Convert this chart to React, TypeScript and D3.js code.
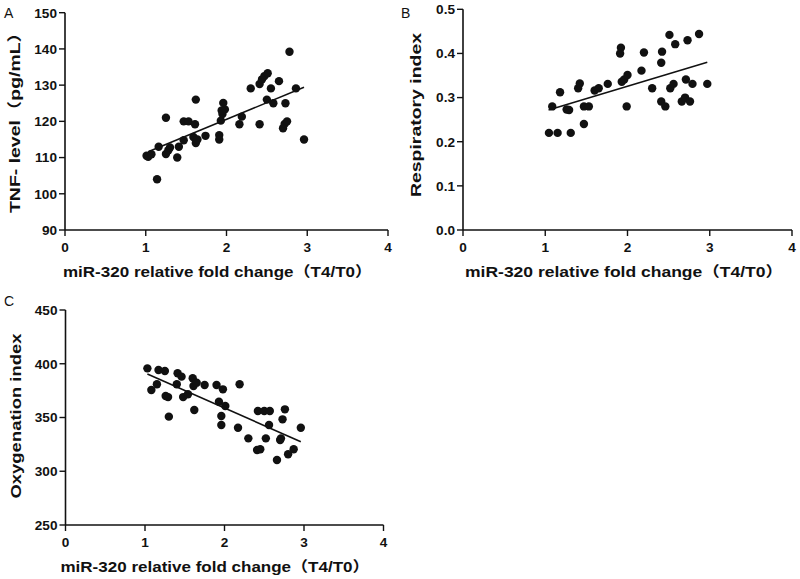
import React from "react";
import * as d3 from "d3";

// Panel A: TNF level vs miR-320 fold change
const tnfX = [1.01, 1.03, 1.07, 1.14, 1.16, 1.25, 1.25, 1.28, 1.30, 1.39, 1.41, 1.47, 1.47, 1.53, 1.61, 1.62, 1.59, 1.62, 1.64, 1.74, 1.91, 1.91, 1.93, 1.95, 1.96, 1.98, 1.94, 2.16, 2.19, 2.30, 2.41, 2.41, 2.44, 2.47, 2.51, 2.50, 2.55, 2.58, 2.65, 2.70, 2.72, 2.75, 2.73, 2.78, 2.86, 2.96];
const tnfY = [110.5, 110.2, 110.9, 104, 113, 121, 111, 112, 112.8, 110, 113, 114.8, 120, 120, 119.2, 126, 115.7, 114, 115, 116, 116.2, 115, 120.2, 122, 125.1, 123.3, 123, 119.2, 121.3, 129.1, 119.2, 130.3, 131.6, 132.5, 133.3, 126, 129.1, 125, 131.1, 118.1, 119.3, 120, 125, 139.2, 129.1, 115];
const tnfFitX = [1.03, 2.96];
const tnfFitY = [111.6, 129.4];
const tnfTicks = [90, 100, 110, 120, 130, 140, 150];

// Panel B: Respiratory index
const riX = [1.045, 1.15, 1.31, 1.085, 1.18, 1.26, 1.29, 1.40, 1.42, 1.47, 1.47, 1.53, 1.60, 1.65, 1.76, 1.92, 1.91, 1.93, 1.96, 2.00, 1.99, 2.17, 2.20, 2.30, 2.41, 2.42, 2.41, 2.46, 2.51, 2.52, 2.56, 2.58, 2.66, 2.70, 2.71, 2.73, 2.76, 2.79, 2.87, 2.97];
const riY = [0.22, 0.22, 0.22, 0.28, 0.312, 0.273, 0.272, 0.321, 0.332, 0.24, 0.28, 0.28, 0.316, 0.321, 0.331, 0.413, 0.40, 0.336, 0.341, 0.351, 0.28, 0.361, 0.402, 0.321, 0.379, 0.404, 0.291, 0.28, 0.442, 0.321, 0.331, 0.421, 0.291, 0.30, 0.341, 0.43, 0.291, 0.331, 0.444, 0.331];
const riFitX = [1.04, 2.97];
const riFitY = [0.272, 0.38];
const riTicks = [0, 0.1, 0.2, 0.3, 0.4, 0.5];

// Panel C: Oxygenation index
const oiX = [1.03, 1.17, 1.25, 1.08, 1.15, 1.26, 1.29, 1.30, 1.41, 1.46, 1.40, 1.48, 1.54, 1.60, 1.61, 1.65, 1.62, 1.75, 1.90, 1.98, 1.93, 2.01, 1.96, 1.96, 2.17, 2.19, 2.30, 2.41, 2.45, 2.42, 2.50, 2.57, 2.52, 2.56, 2.66, 2.70, 2.71, 2.73, 2.76, 2.80, 2.87, 2.96];
const oiY = [395.7, 394.2, 393.3, 375.6, 380.9, 370, 369, 350.8, 391.1, 388, 380.9, 369, 371.6, 386.5, 379.3, 382.4, 357, 380.2, 380.2, 376.2, 364.7, 360.7, 351.4, 343, 340.5, 380.9, 330.6, 319.8, 320.4, 356, 356, 356, 330.6, 343, 310.5, 329, 330.6, 348.3, 357.6, 315.8, 320.4, 340.5];
const oiFitX = [1.03, 2.96];
const oiFitY = [390.5, 327.5];
const oiTicks = [250, 300, 350, 400, 450];

const xTicks = [0, 1, 2, 3, 4];
const xTitle = "miR-320 relative fold change（T4/T0）";

const FONT = "'Liberation Sans', Arial, 'Noto Sans CJK SC', sans-serif";

type PanelProps = {
  letter: string;
  letterPos: [number, number];
  xr: [number, number];
  yr: [number, number];
  yDomain: [number, number];
  yTicks: number[];
  yFmt: (v: number) => string;
  yTitle: string;
  yTitleLen: number;
  yTitleCenter: number;
  titleOffset: number;
  xTitleLen: number;
  xTitleCenter: number;
  xs: number[];
  ys: number[];
  fitX: number[];
  fitY: number[];
};

function Panel(p: PanelProps) {
  const x = d3.scaleLinear().domain([0, 4]).range(p.xr);
  const y = d3.scaleLinear().domain(p.yDomain).range(p.yr);
  const x0 = p.xr[0];
  const y0 = p.yr[0];
  const line = d3
    .line<number>()
    .x((_, i) => x(p.fitX[i]))
    .y((_, i) => y(p.fitY[i]));
  return (
    <g fontFamily={FONT}>
      <text x={p.letterPos[0]} y={p.letterPos[1]} fontSize={14} fill="#111">
        {p.letter}
      </text>
      <line x1={x0} x2={x0} y1={y0} y2={p.yr[1]} stroke="#111" strokeWidth={1.6} />
      <line x1={x0} x2={p.xr[1]} y1={y0} y2={y0} stroke="#111" strokeWidth={1.6} />
      {p.yTicks.map((t) => (
        <g key={"y" + t}>
          <line x1={x0 - 6} x2={x0} y1={y(t)} y2={y(t)} stroke="#111" strokeWidth={1.4} />
          <text x={x0 - 8} y={y(t)} dy="0.36em" textAnchor="end" fontSize={13.6} fontWeight="bold" fill="#111">
            {p.yFmt(t)}
          </text>
        </g>
      ))}
      {xTicks.map((t) => (
        <g key={"x" + t}>
          <line x1={x(t)} x2={x(t)} y1={y0} y2={y0 + 6} stroke="#111" strokeWidth={1.4} />
          <text x={x(t)} y={y0 + 22} textAnchor="middle" fontSize={13.6} fontWeight="bold" fill="#111">
            {t}
          </text>
        </g>
      ))}
      <text
        x={p.xTitleCenter}
        y={y0 + 47}
        textAnchor="middle"
        fontSize={14.5}
        fontWeight="bold"
        fill="#111"
        textLength={p.xTitleLen}
        lengthAdjust="spacingAndGlyphs"
      >
        {xTitle}
      </text>
      <text
        transform={`translate(${x0 - p.titleOffset},${p.yTitleCenter}) rotate(-90)`}
        textAnchor="middle"
        dy="0.36em"
        fontSize={14.5}
        fontWeight="bold"
        fill="#111"
        textLength={p.yTitleLen}
        lengthAdjust="spacingAndGlyphs"
      >
        {p.yTitle}
      </text>
      {p.xs.map((v, i) => (
        <circle key={i} cx={x(v)} cy={y(p.ys[i])} r={4.2} fill="#111" />
      ))}
      <path d={line(p.fitX) || ""} fill="none" stroke="#111" strokeWidth={1.6} />
    </g>
  );
}

export default function App() {
  return (
    <svg
      width={800}
      height={579}
      style={{ position: "absolute", left: 0, top: 0, background: "#fff" }}
    >
      <rect width={800} height={579} fill="#fff" />
      <Panel
        letter="A"
        letterPos={[4, 18]}
        xr={[65, 388]}
        yr={[230, 12.7]}
        yDomain={[90, 150]}
        yTicks={tnfTicks}
        yFmt={(v) => String(v)}
        yTitle="TNF- level（pg/mL）"
        yTitleLen={190}
        yTitleCenter={118}
        titleOffset={50}
        xTitleLen={309}
        xTitleCenter={217.5}
        xs={tnfX}
        ys={tnfY}
        fitX={tnfFitX}
        fitY={tnfFitY}
      />
      <Panel
        letter="B"
        letterPos={[401, 18]}
        xr={[463, 792]}
        yr={[230, 9.3]}
        yDomain={[0, 0.5]}
        yTicks={riTicks}
        yFmt={(v) => d3.format(".1f")(v)}
        yTitle="Respiratory index"
        yTitleLen={164}
        yTitleCenter={115}
        titleOffset={47}
        xTitleLen={318}
        xTitleCenter={624}
        xs={riX}
        ys={riY}
        fitX={riFitX}
        fitY={riFitY}
      />
      <Panel
        letter="C"
        letterPos={[4, 306]}
        xr={[65.5, 383.5]}
        yr={[525, 310]}
        yDomain={[250, 450]}
        yTicks={oiTicks}
        yFmt={(v) => String(v)}
        yTitle="Oxygenation index"
        yTitleLen={165}
        yTitleCenter={416}
        titleOffset={50}
        xTitleLen={309}
        xTitleCenter={215}
        xs={oiX}
        ys={oiY}
        fitX={oiFitX}
        fitY={oiFitY}
      />
    </svg>
  );
}
